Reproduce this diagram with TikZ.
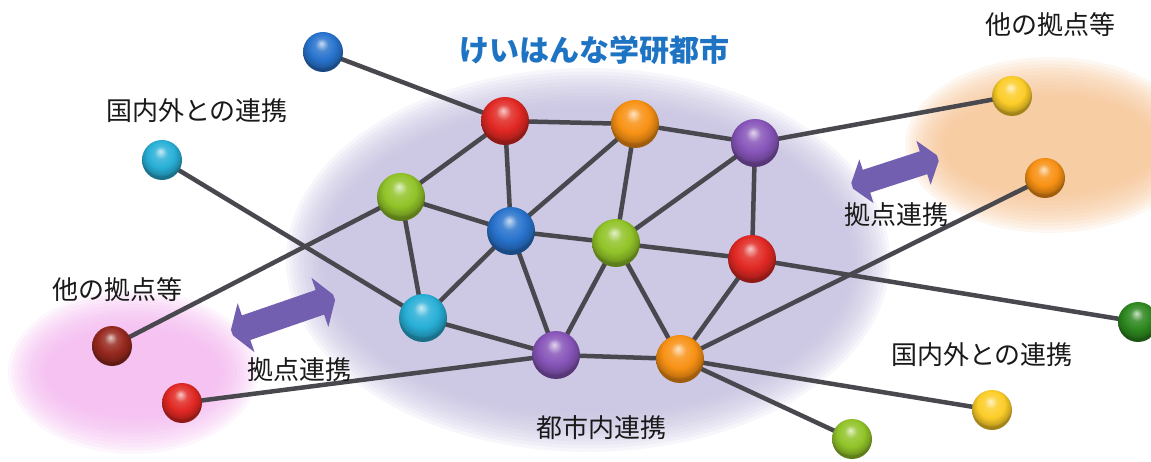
\documentclass[tikz,border=0pt]{standalone}
\usepackage{fontspec}
\newfontfamily\jp{Noto Sans CJK JP}
\pgfdeclarelayer{back}
\pgfdeclarelayer{bg}
\pgfsetlayers{back,bg,main}
\definecolor{lav}{RGB}{191,185,220}
\definecolor{pinkz}{RGB}{242,178,238}
\definecolor{orz}{RGB}{245,191,140}
\definecolor{arrowc}{RGB}{115,95,175}
\definecolor{edgec}{RGB}{72,72,78}
\definecolor{titlec}{RGB}{30,115,195}
\definecolor{bred}{RGB}{225,40,35}
\definecolor{borange}{RGB}{248,145,20}
\definecolor{bpurple}{RGB}{135,85,185}
\definecolor{bgreen}{RGB}{145,195,40}
\definecolor{bblue}{RGB}{40,115,205}
\definecolor{bcyan}{RGB}{40,175,215}
\definecolor{byellow}{RGB}{252,205,40}
\definecolor{bdred}{RGB}{150,40,30}
\definecolor{bdgreen}{RGB}{45,135,30}
\definecolor{textc}{RGB}{25,25,25}
\colorlet{ballc}{red}
\pgfdeclareradialshading[ballc]{glossball}{\pgfpoint{-2bp}{11bp}}{%
  color(0bp)=(ballc!25!white); color(8bp)=(ballc!85!white); color(17bp)=(ballc);
  color(24bp)=(ballc!80!black); color(26bp)=(ballc!65!black); color(50bp)=(ballc!50!black)}
\tikzset{
  mball/.code={\colorlet{ballc}{#1}\tikzset{shade, shading=glossball}},
  bigball/.style={circle, inner sep=0pt, minimum size=48pt, mball=#1},
  smallball/.style={circle, inner sep=0pt, minimum size=40pt, mball=#1},
  link/.style={draw=edgec, line width=4.5pt},
  lbl/.style={font=\jp\fontsize{26}{30}\selectfont, text=textc, inner sep=0pt},
  titlelbl/.style={font=\jp\bfseries\fontsize{30}{34}\selectfont, text=titlec, inner sep=0pt},
  fatarrow/.style={fill=arrowc}
}
\begin{document}
\begin{tikzpicture}[x=1pt,y=-1pt]
\useasboundingbox (0,0) rectangle (1151,462);
% soft ellipses
\begin{pgfonlayer}{back}
\foreach \i in {0,...,11}{
  \fill[lav, fill opacity=0.12] (588,260) ellipse [x radius={302pt-\i*3.5pt}, y radius={192pt-\i*3.5pt}];
  \fill[pinkz, fill opacity=0.12] (133,372) ellipse [x radius={125pt-\i*3.5pt}, y radius={82pt-\i*3.5pt}];
  \fill[orz, fill opacity=0.12] (1050,145) ellipse [x radius={145pt-\i*3.5pt}, y radius={88pt-\i*3.5pt}];
}
\end{pgfonlayer}
% fat double arrows
\begin{pgfonlayer}{bg}
\begin{scope}[shift={(895,172)}, rotate=18]
  \fill[fatarrow] (-45,-3) -- (-30,-23) -- (-30,-12) -- (30,-12) -- (30,-23) -- (45,-3) -- (45,3) -- (30,23) -- (30,12) -- (-30,12) -- (-30,23) -- (-45,3) -- cycle;
\end{scope}
\begin{scope}[shift={(283,315)}, rotate=19]
  \fill[fatarrow] (-54,-3) -- (-39,-26) -- (-39,-13) -- (39,-13) -- (39,-26) -- (54,-3) -- (54,3) -- (39,26) -- (39,13) -- (-39,13) -- (-39,26) -- (-54,3) -- cycle;
\end{scope}
\end{pgfonlayer}
% balls
\node[smallball=bblue] (B1) at (323,52) {};
\node[smallball=bcyan] (C1) at (162,160) {};
\node[bigball=bred] (R1) at (505,121) {};
\node[bigball=borange] (O1) at (635,124) {};
\node[bigball=bpurple] (P1) at (755,143) {};
\node[bigball=bgreen] (G1) at (401,197) {};
\node[bigball=bblue] (B2) at (511,231) {};
\node[bigball=bgreen] (G2) at (616,243) {};
\node[bigball=bred] (R2) at (752,259) {};
\node[bigball=bcyan] (C2) at (423,318) {};
\node[bigball=bpurple] (P2) at (556,355) {};
\node[bigball=borange] (O2) at (680,359) {};
\node[smallball=byellow] (Y1) at (1012,96) {};
\node[smallball=borange] (O3) at (1045,178) {};
\node[smallball=bdgreen] (G3) at (1138,322) {};
\node[smallball=byellow] (Y2) at (992,410) {};
\node[smallball=bgreen] (G4) at (852,439) {};
\node[smallball=bdred] (DR) at (112,346) {};
\node[smallball=bred] (R3) at (182,403) {};
% links
\begin{pgfonlayer}{bg}
\foreach \a/\b in {B1/R1, C1/C2, R1/O1, O1/P1, P1/Y1, R1/G1, R1/B2, O1/B2, O1/G2, P1/G2, P1/R2,
  G1/B2, G1/C2, G1/DR, B2/C2, B2/P2, B2/G2, G2/P2, G2/O2, G2/R2, R2/O2, R2/G3, C2/P2, P2/O2,
  P2/R3, O2/O3, O2/Y2, O2/G4}
  \draw[link] (\a.center) -- (\b.center);
\end{pgfonlayer}
% labels
\node[titlelbl] (title) at (594,50) {けいはんな学研都市};
\node[lbl] (l1) at (197,111) {国内外との連携};
\node[lbl] (l2) at (1050,25) {他の拠点等};
\node[lbl] (l3) at (896,215) {拠点連携};
\node[lbl] (l4) at (117,290) {他の拠点等};
\node[lbl] (l5) at (299,370) {拠点連携};
\node[lbl] (l6) at (601,428) {都市内連携};
\node[lbl] (l7) at (982,355) {国内外との連携};
\end{tikzpicture}
\end{document}
